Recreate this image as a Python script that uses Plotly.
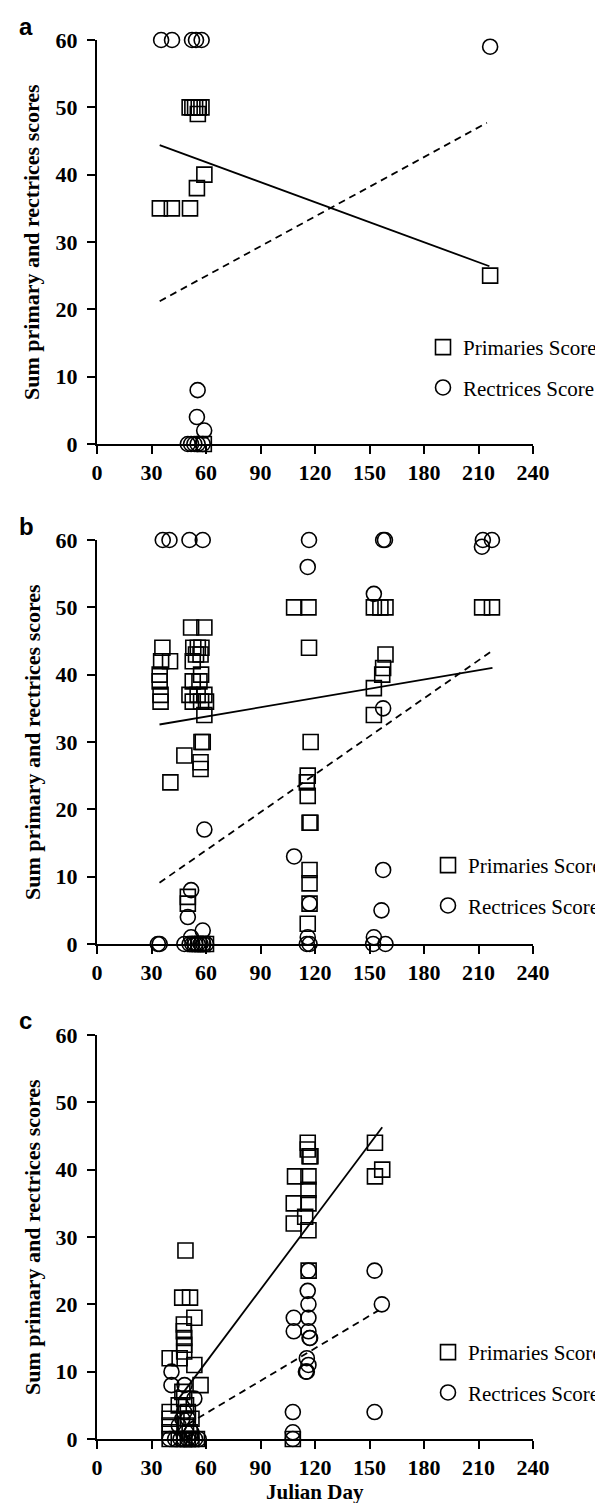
import plotly.graph_objects as go

# ---------------- data ----------------
# Panel a
prim_a_x = [34.6, 41.2, 51.2, 51, 52.5, 54, 55.5, 56, 57.5, 55, 59.1, 58.8, 216.4]
prim_a_y = [35, 35, 35, 50, 50, 50, 49, 50, 50, 38, 40, 0, 25]
rect_a_x = [35.3, 41.3, 52.3, 54.5, 57.6, 216.4, 55.4, 55, 59, 50, 51.8, 53.6, 55.4, 58.2]
rect_a_y = [60, 60, 60, 60, 60, 59, 8, 4, 2, 0, 0, 0, 0, 0]
fit_prim_a_x = [34.5, 216]
fit_prim_a_y = [44.4, 26.4]
fit_rect_a_x = [34.5, 214.6]
fit_rect_a_y = [21.2, 47.7]

# Panel b
prim_b_x = [36, 35.3, 40.2, 34.5, 34.5, 35, 35, 40.4,
            51.8, 59.1, 53, 55.5, 57.5, 54.5, 57, 52.7, 57.3, 52.7, 56.4,
            50.9, 55.4, 59.1, 52.7, 57.3, 60, 59.1, 58.2, 57.5, 48.1, 57, 57,
            50, 50, 54, 56, 58, 60,
            108.5, 116.4, 116.7, 117.6, 116, 115.5, 116, 117, 117.5, 117, 117, 117, 116,
            152.4, 156, 158.8, 158.8, 157.5, 157, 152.4, 152.4, 212, 217.4]
prim_b_y = [44, 42, 42, 40, 39, 37, 36, 24,
            47, 47, 44, 44, 44, 43, 43, 42, 40, 39, 39,
            37, 37, 37, 36, 36, 36, 34, 30, 30, 28, 27, 26,
            7, 6, 0, 0, 0, 0,
            50, 50, 44, 30, 25, 24, 22, 18, 18, 11, 9, 6, 3,
            50, 50, 50, 43, 41, 40, 38, 34, 50, 50]
rect_b_x = [36.2, 39.9, 50.9, 58.2, 116.7, 116, 157.5, 158.5, 152.4, 157.5,
            212.4, 217.4, 211.9, 59.1, 108.5, 157.5, 51.8, 117, 156.6, 50, 58.2,
            51.8, 116, 152.4,
            33.5, 34.5, 48.1, 51, 52.5, 54, 55.5, 57, 58.5, 60, 115.5, 117, 152, 158.8]
rect_b_y = [60, 60, 60, 60, 60, 56, 60, 60, 52, 35,
            60, 60, 59, 17, 13, 11, 8, 6, 5, 4, 2,
            1, 1, 1,
            0, 0, 0, 0, 0, 0, 0, 0, 0, 0, 0, 0, 0, 0]
fit_prim_b_x = [34.4, 217.7]
fit_prim_b_y = [32.6, 41.0]
fit_rect_b_x = [34.4, 217.3]
fit_rect_b_y = [9.1, 43.5]

# Panel c
prim_c_x = [116, 116, 117, 117.5, 109, 116.4, 116.4, 108.3, 116.4, 114.6, 108.3, 116.4,
            116.5, 153, 153, 157, 107.8,
            48.7, 46.9, 51.2, 53.6, 47.8, 47.8, 48, 48, 48, 40, 45.5, 53.6, 57,
            40, 40, 40, 40, 40, 45, 47, 48, 49, 50, 50, 52, 49, 51, 45, 48, 50, 52, 55]
prim_c_y = [44, 43, 42, 42, 39, 39, 37, 35, 35, 33, 32, 31,
            25, 44, 39, 40, 0,
            28, 21, 21, 18, 17, 16, 15, 14, 13, 12, 12, 11, 8,
            4, 3, 2, 1, 0, 5, 7, 6, 5, 4, 3, 3, 2, 1, 0, 0, 0, 0, 0]
rect_c_x = [116.4, 116, 116.4, 116.4, 108.3, 108.3, 116.4, 117.3, 117, 115.5, 116.4, 115, 115.5,
            107.8, 107.8, 107.8, 152.8, 156.8, 152.8,
            41, 41, 48.2, 53.6, 48, 50, 45, 52, 49, 47,
            40, 43, 46, 48, 50, 52, 54, 56]
rect_c_y = [25, 22, 20, 18, 18, 16, 16, 15, 15, 12, 11, 10, 10,
            4, 1, 0, 25, 20, 4,
            10, 8, 8, 6, 4, 3, 2, 1, 1, 3,
            0, 0, 0, 0, 0, 0, 0, 0]
fit_prim_c_x = [45, 157]
fit_prim_c_y = [6, 46.3]
fit_rect_c_x = [50, 155]
fit_rect_c_y = [2.2, 19.1]

x_ticks = [0, 30, 60, 90, 120, 150, 180, 210, 240]
y_ticks = [0, 10, 20, 30, 40, 50, 60]
panel_letters = ["a", "b", "c"]
ytitle = "Sum primary and rectrices scores"
xtitle = "Julian Day"
legend_names = ["Primaries Score", "Rectrices Score"]

panels = [
    (prim_a_x, prim_a_y, rect_a_x, rect_a_y, fit_prim_a_x, fit_prim_a_y, fit_rect_a_x, fit_rect_a_y),
    (prim_b_x, prim_b_y, rect_b_x, rect_b_y, fit_prim_b_x, fit_prim_b_y, fit_rect_b_x, fit_rect_b_y),
    (prim_c_x, prim_c_y, rect_c_x, rect_c_y, fit_prim_c_x, fit_prim_c_y, fit_rect_c_x, fit_rect_c_y),
]

# ---------------- layout geometry ----------------
W, H = 603, 1503
ML, MR, MT, MB = 89, 78, 32, 72
plot_h = H - MT - MB
plot_w = W - ML - MR
panel_px = [(32, 436), (532, 936), (1027, 1431)]
legend_px = [(436, 340), (441, 858), (441, 1345)]


def py2paper(py):
    return (H - MB - py) / plot_h


def px2paper(px):
    return (px - ML) / plot_w


SERIF = "Liberation Serif, Times New Roman, serif"
fig = go.Figure()

for i, (px_, py_, rx, ry, fpx, fpy, frx, fry) in enumerate(panels):
    n = "" if i == 0 else str(i + 1)
    xa, ya = "x" + n, "y" + n
    leg = "legend" + n
    fig.add_trace(go.Scatter(x=px_, y=py_, mode="markers", name=legend_names[0],
                             xaxis=xa, yaxis=ya, legend=leg, legendgroup="p" + n,
                             cliponaxis=False,
                             marker=dict(symbol="square-open", size=15, color="black",
                                         line=dict(width=1.6, color="black"))))
    fig.add_trace(go.Scatter(x=rx, y=ry, mode="markers", name=legend_names[1],
                             xaxis=xa, yaxis=ya, legend=leg, legendgroup="r" + n,
                             cliponaxis=False,
                             marker=dict(symbol="circle-open", size=15, color="black",
                                         line=dict(width=1.6, color="black"))))
    fig.add_trace(go.Scatter(x=fpx, y=fpy, mode="lines", showlegend=False,
                             xaxis=xa, yaxis=ya, cliponaxis=False,
                             line=dict(color="black", width=1.8)))
    fig.add_trace(go.Scatter(x=frx, y=fry, mode="lines", showlegend=False,
                             xaxis=xa, yaxis=ya, cliponaxis=False,
                             line=dict(color="black", width=1.8, dash="7px,5px")))

    top, bot = panel_px[i]
    dom = [py2paper(bot), py2paper(top)]
    axis_common = dict(showline=True, linecolor="black", linewidth=2, ticks="outside",
                       ticklen=8, tickwidth=2, tickcolor="black", showgrid=False,
                       zeroline=False, automargin=False,
                       tickfont=dict(family=SERIF, size=22, color="black", weight="bold"))
    fig.layout["xaxis" + n] = dict(axis_common, range=[0, 240], tickvals=x_ticks,
                                   domain=[0, 1], anchor=ya)
    fig.layout["yaxis" + n] = dict(axis_common, range=[0, 60], tickvals=y_ticks,
                                   domain=dom, anchor=xa, ticklabelstandoff=5)

    lx, ly = legend_px[i]
    fig.layout[leg] = dict(x=(lx - 21) / W, y=1 - (ly - 21) / H, xref="container",
                           yref="container", xanchor="left", yanchor="top",
                           bgcolor="rgba(0,0,0,0)", traceorder="grouped", tracegroupgap=10,
                           font=dict(family=SERIF, size=21, color="black"))

    fig.add_annotation(text="<b>" + ytitle + "</b>", textangle=-90, xref="paper", yref="paper",
                       x=px2paper(24), y=py2paper((top + bot) / 2), xanchor="center",
                       yanchor="middle", showarrow=False,
                       font=dict(family=SERIF, size=22, color="black"))
    fig.add_annotation(text="<b>" + panel_letters[i] + "</b>", xref="paper", yref="paper",
                       x=px2paper(9), y=py2paper(top - 14), xanchor="left", yanchor="middle",
                       showarrow=False,
                       font=dict(family="Liberation Sans, Arial, sans-serif", size=24, color="black"))

fig.add_annotation(text="<b>" + xtitle + "</b>", xref="paper", yref="paper",
                   x=px2paper(307), y=py2paper(1484), xanchor="center", yanchor="middle",
                   showarrow=False, font=dict(family=SERIF, size=21, color="black"))

fig.update_layout(width=W, height=H,
                  margin=dict(l=ML, r=MR, t=MT, b=MB, autoexpand=False),
                  plot_bgcolor="white", paper_bgcolor="white", showlegend=True)

fig.write_html("out.html")
